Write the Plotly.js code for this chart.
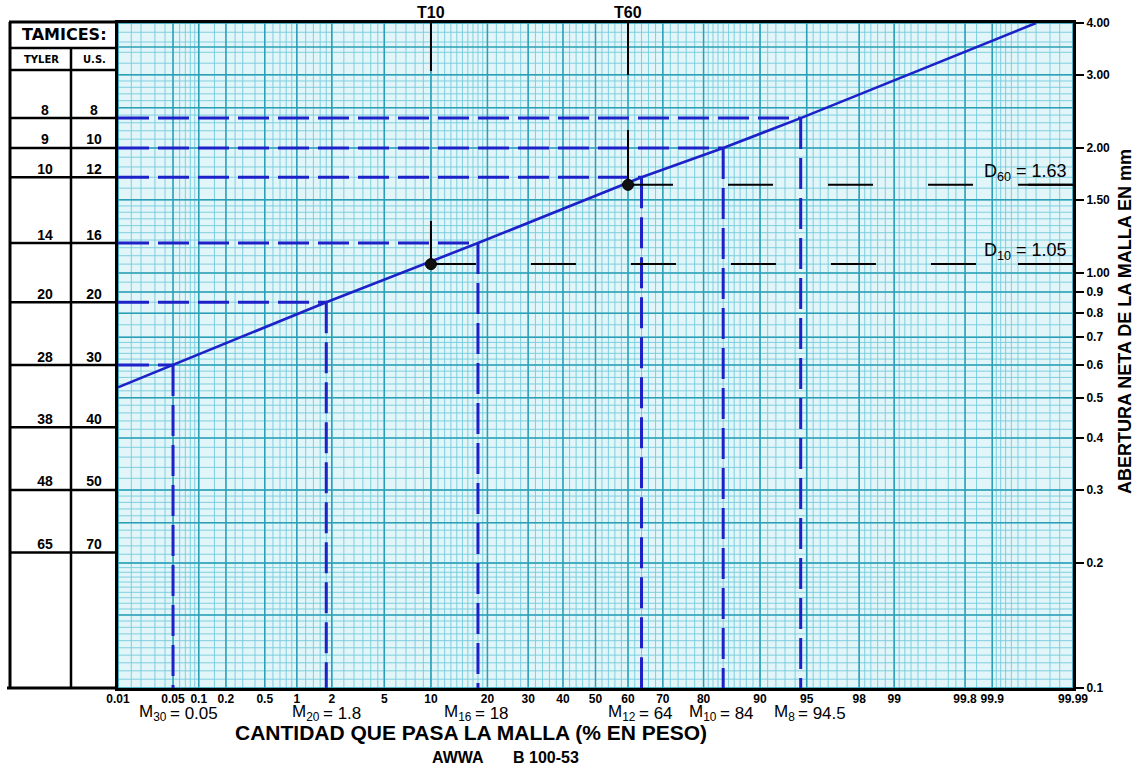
<!DOCTYPE html>
<html><head><meta charset="utf-8">
<script src="https://cdn.plot.ly/plotly-3.0.1.min.js"></script>
<style>html,body{margin:0;padding:0;background:#fff}#chart{width:1138px;height:768px}</style>
</head><body><div id="chart"></div>
<script>
// ---------------- data ----------------
const xTickPct  = [0.01,0.05,0.1,0.2,0.5,1,2,5,10,20,30,40,50,60,70,80,90,95,98,99,99.8,99.9,99.99];
const xTickText = ['0.01','0.05','0.1','0.2','0.5','1','2','5','10','20','30','40','50','60','70','80','90','95','98','99','99.8','99.9','99.99'];
const yTickVals = [0.1,0.2,0.3,0.4,0.5,0.6,0.7,0.8,0.9,1,1.5,2,3,4];
const yTickText = ['0.1','0.2','0.3','0.4','0.5','0.6','0.7','0.8','0.9','1.00','1.50','2.00','3.00','4.00'];

const sieveTyler = ['8','9','10','14','20','28','38','48','65'];
const sieveUS    = ['8','10','12','16','20','30','40','50','70'];
const sieveMM    = [2.36,2.00,1.70,1.18,0.85,0.60,0.425,0.30,0.212];

const meshLabel = ['30','20','16','12','10','8'];
const meshValue = ['0.05','1.8','18','64','84','94.5'];
const meshPct   = [0.05,1.8,18,64,84,94.5];
const meshMM    = [0.60,0.85,1.18,1.70,2.00,2.36];

const curvePct = [0.01,0.05,1.8,18,64,84,94.5,99.97];
const curveMM  = [0.53,0.60,0.85,1.18,1.70,2.00,2.36,4.00];

const tLabel = ['10','60'];
const tPct   = [10,60];
const tMM    = [1.05,1.63];
const dValue = ['1.05','1.63'];
const dUnderlineFrom = 99.95;

// ---------------- probability scale ----------------
function probit(p){
  const a=[-3.969683028665376e+01,2.209460984245205e+02,-2.759285104469687e+02,1.383577518672690e+02,-3.066479806614716e+01,2.506628277459239e+00];
  const b=[-5.447609879822406e+01,1.615858368580409e+02,-1.556989798598866e+02,6.680131188771972e+01,-1.328068155288572e+01];
  const c=[-7.784894002430293e-03,-3.223964580411365e-01,-2.400758277161838e+00,-2.549732539343734e+00,4.374664141464968e+00,2.938163982698783e+00];
  const d=[7.784695709041462e-03,3.224671290700398e-01,2.445134137142996e+00,3.754408661907416e+00];
  const pl=0.02425, ph=1-pl; let q,r;
  if(p<pl){q=Math.sqrt(-2*Math.log(p));return (((((c[0]*q+c[1])*q+c[2])*q+c[3])*q+c[4])*q+c[5])/((((d[0]*q+d[1])*q+d[2])*q+d[3])*q+1);}
  if(p<=ph){q=p-0.5;r=q*q;return (((((a[0]*r+a[1])*r+a[2])*r+a[3])*r+a[4])*r+a[5])*q/(((((b[0]*r+b[1])*r+b[2])*r+b[3])*r+b[4])*r+1);}
  q=Math.sqrt(-2*Math.log(1-p));return -(((((c[0]*q+c[1])*q+c[2])*q+c[3])*q+c[4])*q+c[5])/((((d[0]*q+d[1])*q+d[2])*q+d[3])*q+1);
}
const X = pct => probit(pct/100);
const YMIN = 0.1, YMAX = 4;

// ---------------- graph-paper grid ----------------
function seq(a,b,s){const o=[];for(let v=a;v<=b+1e-9;v+=s)o.push(+v.toFixed(4));return o;}
const vMinor = [].concat(seq(0.01,0.1,0.01),[0.015,0.15,0.25],seq(0.1,1,0.1),seq(1,2,0.2),seq(2,5,0.5),seq(5,10,1),
  seq(10,20,1),seq(20,80,2),seq(80,90,1),seq(90,95,1),seq(95,98,0.5),seq(98,99,0.2),seq(99,99.9,0.1),[99.75,99.85,99.985],seq(99.9,99.99,0.01));
const vMajor = xTickPct;
const hMinor = [].concat(seq(0.1,0.2,0.005),seq(0.2,0.3,0.01),seq(0.3,0.7,0.02),seq(0.7,1.5,0.05),seq(1.5,3,0.1),seq(3,4,0.2));
const hMajor = yTickVals.concat([0.15,0.25,2.5,3.5]);

function vGrid(list){const x=[],y=[];list.forEach(p=>{const z=X(p);x.push(z,z,null);y.push(YMIN,YMAX,null);});return {x,y};}
function hGrid(list){const x=[],y=[];const x0=X(0.01),x1=X(99.99);list.forEach(v=>{x.push(x0,x1,null);y.push(v,v,null);});return {x,y};}

const traces = [];
const gridMinorColor = '#74cbdb', gridMajorColor = '#2c9fb6';
[[vGrid(vMinor),gridMinorColor,0.9],[hGrid(hMinor),gridMinorColor,0.9],[vGrid(vMajor),gridMajorColor,1.5],[hGrid(hMajor),gridMajorColor,1.5]].forEach(([g,col,w])=>{
  traces.push({x:g.x,y:g.y,mode:'lines',line:{color:col,width:w},hoverinfo:'skip',showlegend:false,connectgaps:false});
});

const BLUE = '#1c22c8';
meshPct.forEach((p,i)=>{
  traces.push({x:[X(0.01),X(p)],y:[meshMM[i],meshMM[i]],mode:'lines',line:{color:BLUE,width:3,dash:'31px,9px'},hoverinfo:'skip',showlegend:false});
  traces.push({x:[X(p),X(p)],y:[meshMM[i],YMIN],mode:'lines',line:{color:BLUE,width:3,dash:'31px,9px'},hoverinfo:'skip',showlegend:false});
});
traces.push({x:curvePct.map(X),y:curveMM,mode:'lines',line:{color:BLUE,width:2.6},hoverinfo:'skip',showlegend:false});

const tDash = ['48px,150px','52px,55px'];
tPct.forEach((p,i)=>{
  traces.push({x:[X(p),X(p)],y:[YMAX,tMM[i]],mode:'lines',line:{color:'#000',width:2,dash:tDash[i]},hoverinfo:'skip',showlegend:false});
  traces.push({x:[X(p),X(99.99)],y:[tMM[i],tMM[i]],mode:'lines',line:{color:'#000',width:2,dash:'45px,55px'},hoverinfo:'skip',showlegend:false});
  traces.push({x:[X(dUnderlineFrom),X(99.99)],y:[tMM[i],tMM[i]],mode:'lines',line:{color:'#000',width:2},hoverinfo:'skip',showlegend:false});
});
traces.push({x:tPct.map(X),y:tMM,mode:'markers',marker:{color:'#111',size:11,line:{color:'#000',width:1}},hoverinfo:'skip',showlegend:false});

// ---------------- sieve table (x2) ----------------
const rowX=[],rowY=[];
sieveMM.forEach(v=>{rowX.push(0,108,null);rowY.push(v,v,null);});
traces.push({x:rowX,y:rowY,xaxis:'x2',yaxis:'y',mode:'lines',line:{color:'#000',width:2.5},hoverinfo:'skip',showlegend:false});
const tableFont = {family:'Liberation Sans, Arial, sans-serif',size:14,weight:'bold',color:'#000'};
traces.push({x:sieveMM.map(()=>35),y:sieveMM,text:sieveTyler,xaxis:'x2',yaxis:'y',mode:'text',textposition:'top center',textfont:tableFont,hoverinfo:'skip',showlegend:false});
traces.push({x:sieveMM.map(()=>84),y:sieveMM,text:sieveUS,xaxis:'x2',yaxis:'y',mode:'text',textposition:'top center',textfont:tableFont,hoverinfo:'skip',showlegend:false});

// ---------------- layout ----------------
const L=6, R=65, T=23, B=80, W=1138, H=768;
const PW = W-L-R, PH = H-T-B;
const px2paperX = px => (px-L)/PW;
const px2paperY = py => (H-B-py)/PH;
const mainStart = px2paperX(118);

const shapes = [
  {type:'rect',xref:'x domain',yref:'y domain',x0:0,x1:1,y0:0,y1:1,fillcolor:'#e2f5f9',line:{width:0},layer:'below'},
  {type:'line',xref:'paper',yref:'paper',x0:px2paperX(10),x1:px2paperX(10),y0:0,y1:px2paperY(22),line:{color:'#000',width:3}},
  {type:'line',xref:'paper',yref:'paper',x0:px2paperX(9),x1:px2paperX(118),y0:px2paperY(22),y1:px2paperY(22),line:{color:'#000',width:3}},
  {type:'line',xref:'paper',yref:'paper',x0:px2paperX(10),x1:px2paperX(118),y0:px2paperY(48),y1:px2paperY(48),line:{color:'#000',width:2.5}},
  {type:'line',xref:'paper',yref:'paper',x0:px2paperX(10),x1:px2paperX(118),y0:px2paperY(70),y1:px2paperY(70),line:{color:'#000',width:2.5}},
  {type:'line',xref:'paper',yref:'paper',x0:px2paperX(71),x1:px2paperX(71),y0:0,y1:px2paperY(48),line:{color:'#000',width:2.5}},
  {type:'line',xref:'paper',yref:'paper',x0:px2paperX(7),x1:px2paperX(118),y0:0,y1:0,line:{color:'#000',width:3}}
];

const fontMain = 'Liberation Sans, Arial, sans-serif';
const fontNarrow = 'Liberation Sans Narrow, Liberation Sans, Arial, sans-serif';
const C = {xanchor:'center',yanchor:'middle',showarrow:false};
const annotations = [
  Object.assign({xref:'paper',yref:'paper',x:px2paperX(64),y:px2paperY(35),text:'TAMICES:',font:{family:'DejaVu Sans, sans-serif',size:16,weight:'bold',color:'#000'}},C),
  Object.assign({xref:'paper',yref:'paper',x:px2paperX(41),y:px2paperY(59),text:'TYLER',font:{family:'DejaVu Sans, sans-serif',size:10,weight:'bold',color:'#000'}},C),
  Object.assign({xref:'paper',yref:'paper',x:px2paperX(94),y:px2paperY(59),text:'U.S.',font:{family:'DejaVu Sans, sans-serif',size:10,weight:'bold',color:'#000'}},C),
  Object.assign({xref:'paper',yref:'paper',x:px2paperX(471),y:px2paperY(732),text:'CANTIDAD QUE PASA LA MALLA (% EN PESO)',font:{family:fontMain,size:21,weight:'bold',color:'#000'}},C),
  Object.assign({xref:'paper',yref:'paper',x:px2paperX(458),y:px2paperY(758),text:'AWWA',font:{family:fontMain,size:16,weight:'bold',color:'#000'}},C),
  Object.assign({xref:'paper',yref:'paper',x:px2paperX(546),y:px2paperY(758),text:'B 100-53',font:{family:fontMain,size:16,weight:'bold',color:'#000'}},C),
  Object.assign({xref:'paper',yref:'paper',x:px2paperX(1125),y:px2paperY(322),textangle:-90,text:'ABERTURA NETA DE LA MALLA EN mm',font:{family:fontMain,size:18,weight:'bold',color:'#000'}},C)
];
tPct.forEach((p,i)=>{
  annotations.push({xref:'x',yref:'paper',x:X(p),y:1,xanchor:'center',yanchor:'bottom',yshift:0,text:'T'+tLabel[i],showarrow:false,font:{family:fontMain,size:16,weight:'bold',color:'#000'}});
  annotations.push({xref:'x',yref:'y',x:X(99.99),y:Math.log10(tMM[i]),xanchor:'right',xshift:-4,yanchor:'bottom',yshift:-1,
    text:'D<sub>'+tLabel[i]+'</sub> = '+dValue[i],showarrow:false,font:{family:fontMain,size:18,color:'#000'}});
});
meshPct.forEach((p,i)=>{
  annotations.push({xref:'x',yref:'paper',x:X(p),y:0,xanchor:'right',xshift:-4,yanchor:'middle',yshift:-25,text:'M<sub>'+meshLabel[i]+'</sub>',showarrow:false,font:{family:fontMain,size:17,color:'#000'}});
  annotations.push({xref:'x',yref:'paper',x:X(p),y:0,xanchor:'left',xshift:-5,yanchor:'middle',yshift:-25,text:'= '+meshValue[i],showarrow:false,font:{family:fontMain,size:17,color:'#000'}});
});

const layout = {
  width:W,height:H,margin:{l:L,r:R,t:T,b:B},
  paper_bgcolor:'#fff',plot_bgcolor:'#fff',showlegend:false,
  xaxis:{domain:[mainStart,1],range:[X(0.01),X(99.99)],tickvals:xTickPct.map(X),ticktext:xTickText,ticks:'',ticklabelstandoff:-2,showgrid:false,zeroline:false,
    showline:true,mirror:true,linecolor:'#000',linewidth:3,tickfont:{family:fontNarrow,size:12,weight:'bold',color:'#000'},anchor:'y'},
  xaxis2:{domain:[0,mainStart],range:[-4,108],visible:false,anchor:'y',fixedrange:true},
  yaxis:{type:'log',range:[Math.log10(YMIN),Math.log10(YMAX)],side:'right',tickvals:yTickVals,ticktext:yTickText,ticks:'outside',ticklen:8,tickwidth:2,tickcolor:'#000',
    showgrid:false,zeroline:false,showline:true,mirror:true,linecolor:'#000',linewidth:3,tickfont:{family:fontNarrow,size:12,weight:'bold',color:'#000'},anchor:'x'},
  shapes:shapes,annotations:annotations
};
Plotly.newPlot('chart',traces,layout,{staticPlot:true});
</script>
</body></html>
